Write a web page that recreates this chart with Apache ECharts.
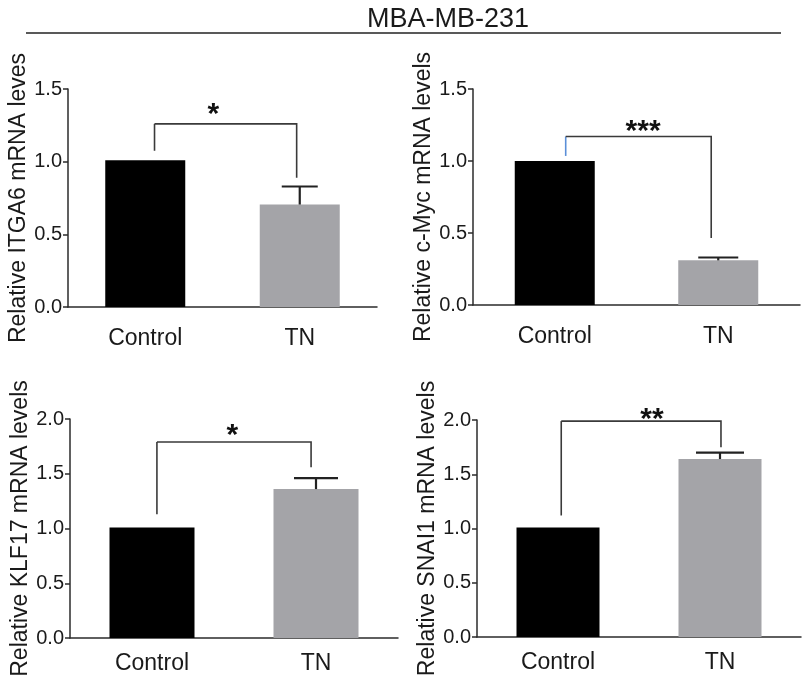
<!DOCTYPE html>
<html><head><meta charset="utf-8">
<script src="https://cdn.jsdelivr.net/npm/echarts@6/dist/echarts.min.js"></script>
<style>html,body{margin:0;padding:0;background:#fff}#c{width:807px;height:681px}</style>
</head><body><div id="c"></div>
<script>
// ---------- data ----------
const chartTitle = 'MBA-MB-231';
const categories = ['Control', 'TN'];
const yNames = ['Relative ITGA6 mRNA leves', 'Relative c-Myc mRNA levels', 'Relative KLF17 mRNA levels', 'Relative SNAI1 mRNA levels'];
const itga6Values = [1.01, 0.705];
const itga6Errors = [0, 0.124];
const cmycValues = [1.0, 0.31];
const cmycErrors = [0, 0.02];
const klf17Values = [1.01, 1.36];
const klf17Errors = [0, 0.10];
const snai1Values = [1.01, 1.64];
const snai1Errors = [0, 0.06];
const yMax = [1.5, 1.5, 2.0, 2.0];
const yInterval = [0.5, 0.5, 0.5, 0.5];
const significance = ['*', '***', '*', '**'];
const bracketTop = [1.26, 1.17, 1.79, 1.99];
const bracketLeftEnd = [1.075, 1.035, 1.13, 1.12];
const bracketRightEnd = [0.89, 0.465, 1.56, 1.75];
const bracketLeftShift = [0.06, 0.067, 0.03, 0.02];   // in category units
const bracketRightShift = [-0.02, -0.043, -0.03, 0.006];
const starX = [0.44, 0.54, 0.49, 0.58];               // in category units from Control
const starY = [1.37, 1.25, 1.91, 2.07];

const allValues = [itga6Values, cmycValues, klf17Values, snai1Values];
const allErrors = [itga6Errors, cmycErrors, klf17Errors, snai1Errors];

// ---------- layout / style ----------
const FONT = '"Liberation Sans", Arial, sans-serif';
const grids = [
  {left: 68, top: 89, width: 309, height: 218},
  {left: 473, top: 89, width: 327, height: 216},
  {left: 70, top: 419, width: 328, height: 219},
  {left: 477, top: 420, width: 324, height: 217}
];
const barWidths = [80, 80, 85, 83];
const capHalf = [18, 20, 22, 24];
const xLabelMargin = [20, 20, 14, 14];
const barColors = ['#000000', '#a4a4a8'];
const axisColor = '#2b2b2b';

const xAxes = [], yAxes = [], series = [];
for (let i = 0; i < 4; i++) {
  xAxes.push({
    type: 'category', gridIndex: i, data: categories,
    axisLine: {lineStyle: {color: axisColor, width: 1.5}},
    axisTick: {alignWithLabel: true, length: 6, lineStyle: {color: axisColor, width: 1.5}},
    axisLabel: {color: '#1a1a1a', fontSize: 23, fontFamily: FONT, margin: xLabelMargin[i]}
  });
  yAxes.push({
    type: 'value', gridIndex: i, min: 0, max: yMax[i], interval: yInterval[i],
    name: yNames[i], nameLocation: 'middle', nameGap: 31,
    nameTextStyle: {color: '#1a1a1a', fontSize: 23, fontFamily: FONT},
    axisLine: {show: true, lineStyle: {color: axisColor, width: 1.5}},
    axisTick: {show: true, length: 5, lineStyle: {color: axisColor, width: 1.5}},
    axisLabel: {color: '#1a1a1a', fontSize: 20, fontFamily: FONT, margin: 6,
      formatter: v => v.toFixed(1)},
    splitLine: {show: false}
  });
  series.push({
    type: 'bar', xAxisIndex: i, yAxisIndex: i, barWidth: barWidths[i],
    data: allValues[i].map((v, k) => ({value: v, itemStyle: {color: barColors[k]}})),
    z: 2
  });
  // error bars (upper only)
  series.push({
    type: 'custom', xAxisIndex: i, yAxisIndex: i, clip: false, z: 3,
    data: allValues[i].map((v, k) => [k, v, allErrors[i][k]]),
    renderItem: (function (pi) {
      return function (params, api) {
        const k = api.value(0), v = api.value(1), e = api.value(2);
        if (!e) return null;
        const p0 = api.coord([k, v]);
        const p1 = api.coord([k, v + e]);
        const st = {stroke: '#222', lineWidth: 2.2, fill: null};
        return {type: 'group', children: [
          {type: 'line', shape: {x1: p0[0], y1: p0[1], x2: p1[0], y2: p1[1]}, style: st},
          {type: 'line', shape: {x1: p1[0] - capHalf[pi], y1: p1[1], x2: p1[0] + capHalf[pi], y2: p1[1]}, style: st}
        ]};
      };
    })(i)
  });
  // significance bracket
  series.push({
    type: 'custom', xAxisIndex: i, yAxisIndex: i, clip: false, z: 4,
    data: [[0, bracketTop[i]]],
    renderItem: (function (pi) {
      return function (params, api) {
        const c0 = api.coord([0, bracketTop[pi]]);
        const c1 = api.coord([1, bracketTop[pi]]);
        const band = c1[0] - c0[0];
        const xl = c0[0] + bracketLeftShift[pi] * band;
        const xr = c1[0] + bracketRightShift[pi] * band;
        const yt = c0[1];
        const yl = api.coord([0, bracketLeftEnd[pi]])[1];
        const yr = api.coord([1, bracketRightEnd[pi]])[1];
        const ys = api.coord([0, starY[pi]])[1];
        const st = {stroke: '#3a3a3a', lineWidth: 1.6, fill: null};
        const leftSt = pi === 1 ? {stroke: '#5b8fd8', lineWidth: 1.6, fill: null} : st;
        return {type: 'group', children: [
          {type: 'line', shape: {x1: xl, y1: yl, x2: xl, y2: yt}, style: leftSt},
          {type: 'polyline', shape: {points: [[xl, yt], [xr, yt], [xr, yr]]}, style: st},
          {type: 'text', x: c0[0] + starX[pi] * band, y: ys + 7,
            style: {text: significance[pi], fill: '#111', fontSize: 30, fontWeight: 'bold', fontFamily: FONT,
              align: 'center', verticalAlign: 'middle'}}
        ]};
      };
    })(i)
  });
}

const chart = echarts.init(document.getElementById('c'), null, {renderer: 'canvas'});
chart.setOption({
  backgroundColor: '#fff',
  animation: false,
  title: {text: chartTitle, left: 362, top: 1,
    textStyle: {color: '#1a1a1a', fontSize: 27, fontWeight: 'normal', fontFamily: FONT}},
  graphic: [{type: 'line', shape: {x1: 26, y1: 33, x2: 781, y2: 33},
    style: {stroke: '#222', lineWidth: 1.5}}],
  grid: grids,
  xAxis: xAxes,
  yAxis: yAxes,
  series: series
});
</script>
</body></html>
